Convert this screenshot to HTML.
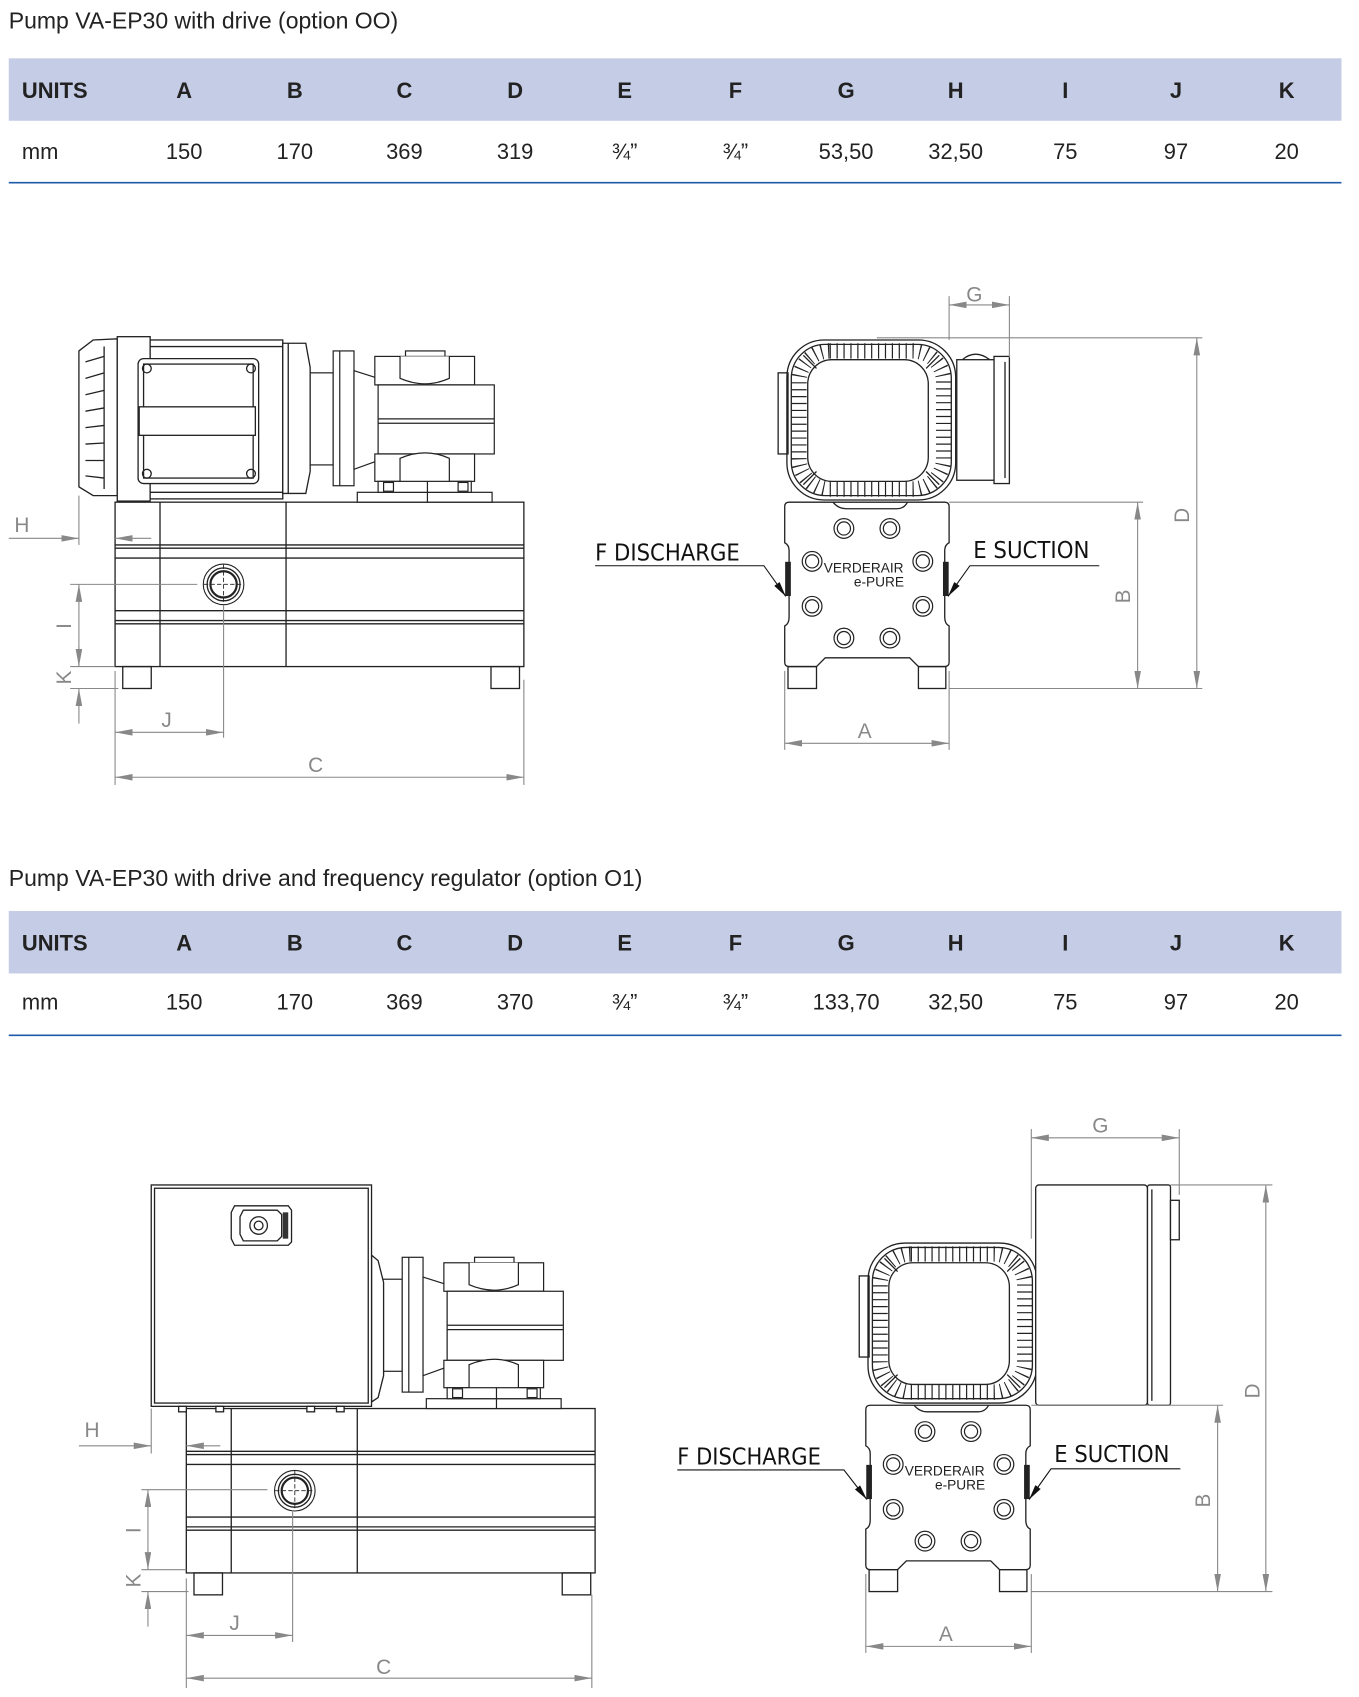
<!DOCTYPE html>
<html><head><meta charset="utf-8"><style>
html,body{margin:0;padding:0;background:#fff;}
svg{display:block;}
</style></head><body>
<svg width="1359" height="1697" viewBox="0 0 1240 1548" xmlns="http://www.w3.org/2000/svg" font-family="'Liberation Sans', sans-serif">
<defs>
<marker id="ar" viewBox="0 0 16 6" refX="16" refY="3" markerWidth="16" markerHeight="6" markerUnits="userSpaceOnUse" orient="auto-start-reverse"><path d="M0,0 L16,3 L0,6 Z" fill="#888"/></marker>
<marker id="ab" viewBox="0 0 14 6" refX="14" refY="3" markerWidth="14" markerHeight="6" markerUnits="userSpaceOnUse" orient="auto"><path d="M0,0 L14,3 L0,6 Z" fill="#111"/></marker>

<g id="base" fill="none" stroke="#222" stroke-width="1.2">
  <rect x="105" y="458" width="373" height="150"/>
  <line x1="146" y1="458" x2="146" y2="608"/>
  <line x1="261" y1="458" x2="261" y2="608"/>
  <line x1="105" y1="497" x2="478" y2="497"/><line x1="105" y1="500" x2="478" y2="500"/>
  <line x1="105" y1="509" x2="478" y2="509"/>
  <line x1="105" y1="557" x2="478" y2="557"/>
  <line x1="105" y1="566" x2="478" y2="566"/><line x1="105" y1="569" x2="478" y2="569"/>
  <rect x="112" y="608" width="26" height="20"/>
  <rect x="448" y="608" width="26" height="20"/>
  <circle cx="204" cy="533" r="18.5" stroke-width="1"/>
  <circle cx="204" cy="533" r="15"/>
  <circle cx="204" cy="533" r="12" stroke-width="2"/>
  <line x1="186" y1="533" x2="222" y2="533" stroke-width="0.8" stroke-dasharray="4 2"/>
  <line x1="204" y1="515" x2="204" y2="551" stroke-width="0.8" stroke-dasharray="4 2"/>
</g>

<g id="gear" fill="#fff" stroke="#222" stroke-width="1.1">
  <rect x="281" y="340" width="23" height="84"/>
  <rect x="304" y="320" width="19" height="123"/>
  <line x1="310" y1="320" x2="310" y2="443"/>
  <path d="M323,338 L345,345 L345,420 L323,428 Z"/>
  <rect x="342" y="325" width="91" height="26"/>
  <rect x="370" y="320" width="36" height="5"/>
  <path d="M365,325 L365,345 Q388,355 410,345 L410,325" />
  <rect x="345" y="351" width="106" height="63"/>
  <line x1="345" y1="382" x2="451" y2="382"/><line x1="345" y1="386" x2="451" y2="386"/>
  <rect x="342" y="414" width="91" height="25"/>
  <path d="M365,439 L365,418 Q388,408 410,418 L410,439" />
  <rect x="326" y="449" width="123" height="9"/>
  <rect x="345" y="439" width="85" height="10"/>
  <rect x="350" y="440" width="9" height="8"/><rect x="418" y="440" width="9" height="8"/>
  <line x1="390" y1="439" x2="390" y2="458"/>
</g>

<g id="front">
  <g fill="none" stroke="#222" stroke-width="1.2">
    <rect x="710" y="340" width="9" height="74"/>
    <rect x="718" y="310" width="154" height="146" rx="34"/>
    <rect x="722" y="314" width="146" height="138" rx="31"/>
    <rect x="729" y="320" width="132" height="126" rx="28" stroke-width="14" stroke="#222" stroke-dasharray="1.1 5.2"/>
    <rect x="737" y="328" width="110" height="111" rx="22"/>
    <path d="M733,324 L745,336 M857,324 L845,336 M733,442 L745,430 M857,442 L845,430"/>
    <path d="M716,462 Q716,458 720,458 L862,458 Q866,458 866,462 L866,495 Q862,497 862,502 L862,563 Q862,569 866,571 L866,604 Q866,608 862,608 L838,608 L830,600 L753,600 L745,608 L720,608 Q716,608 716,604 L716,571 Q720,569 720,563 L720,502 Q720,497 716,495 Z" fill="#fff"/>
    <path d="M760,458 Q765,464 772,464 L818,464 Q825,464 828,458"/>
    <rect x="719" y="608" width="26" height="20"/>
    <rect x="838" y="608" width="25" height="20"/>
    <rect x="717" y="513" width="4" height="30" fill="#222"/>
    <rect x="861" y="513" width="4" height="30" fill="#222"/>
  </g>
  <g fill="none" stroke="#222" stroke-width="1.1">
    <circle cx="770" cy="482" r="9"/><circle cx="770" cy="482" r="6"/>
    <circle cx="812" cy="482" r="9"/><circle cx="812" cy="482" r="6"/>
    <circle cx="741" cy="512" r="9"/><circle cx="741" cy="512" r="6"/>
    <circle cx="842" cy="512" r="9"/><circle cx="842" cy="512" r="6"/>
    <circle cx="741" cy="553" r="9"/><circle cx="741" cy="553" r="6"/>
    <circle cx="842" cy="553" r="9"/><circle cx="842" cy="553" r="6"/>
    <circle cx="770" cy="582" r="9"/><circle cx="770" cy="582" r="6"/>
    <circle cx="812" cy="582" r="9"/><circle cx="812" cy="582" r="6"/>
  </g>
  <text x="788" y="522" font-size="12.5" text-anchor="middle" fill="#222">VERDERAIR</text>
  <text x="802" y="535" font-size="12.5" text-anchor="middle" fill="#222">e-PURE</text>
</g>
</defs>

<!-- Titles & tables -->
<text x="8" y="26" font-size="21" fill="#222">Pump VA-EP30 with drive (option OO)</text>
<rect x="8" y="53" width="1216" height="57" fill="#c5cce6"/>
<g font-size="20" font-weight="bold" fill="#222" text-anchor="middle">
<text x="20" y="89" text-anchor="start">UNITS</text>
<text x="168" y="89">A</text><text x="269" y="89">B</text><text x="369" y="89">C</text><text x="470" y="89">D</text><text x="570" y="89">E</text><text x="671" y="89">F</text><text x="772" y="89">G</text><text x="872" y="89">H</text><text x="972" y="89">I</text><text x="1073" y="89">J</text><text x="1174" y="89">K</text>
</g>
<g font-size="20" fill="#222" text-anchor="middle">
<text x="20" y="145" text-anchor="start">mm</text>
<text x="168" y="145">150</text><text x="269" y="145">170</text><text x="369" y="145">369</text><text x="470" y="145">319</text><text x="570" y="145">¾”</text><text x="671" y="145">¾”</text><text x="772" y="145">53,50</text><text x="872" y="145">32,50</text><text x="972" y="145">75</text><text x="1073" y="145">97</text><text x="1174" y="145">20</text>
</g>
<line x1="8" y1="166.5" x2="1224" y2="166.5" stroke="#1f5aa8" stroke-width="1.5"/>

<text x="8" y="808" font-size="21" fill="#222">Pump VA-EP30 with drive and frequency regulator (option O1)</text>
<rect x="8" y="831" width="1216" height="57" fill="#c5cce6"/>
<g font-size="20" font-weight="bold" fill="#222" text-anchor="middle">
<text x="20" y="867" text-anchor="start">UNITS</text>
<text x="168" y="867">A</text><text x="269" y="867">B</text><text x="369" y="867">C</text><text x="470" y="867">D</text><text x="570" y="867">E</text><text x="671" y="867">F</text><text x="772" y="867">G</text><text x="872" y="867">H</text><text x="972" y="867">I</text><text x="1073" y="867">J</text><text x="1174" y="867">K</text>
</g>
<g font-size="20" fill="#222" text-anchor="middle">
<text x="20" y="921" text-anchor="start">mm</text>
<text x="168" y="921">150</text><text x="269" y="921">170</text><text x="369" y="921">369</text><text x="470" y="921">370</text><text x="570" y="921">¾”</text><text x="671" y="921">¾”</text><text x="772" y="921">133,70</text><text x="872" y="921">32,50</text><text x="972" y="921">75</text><text x="1073" y="921">97</text><text x="1174" y="921">20</text>
</g>
<line x1="8" y1="944.5" x2="1224" y2="944.5" stroke="#1f5aa8" stroke-width="1.5"/>

<!-- ===== Drawing 1 side ===== -->
<use href="#base"/>
<use href="#gear"/>
<g fill="#fff" stroke="#222" stroke-width="1.2">
  <path d="M72,320 L85,310 L107,309 L107,452 L85,452 L72,444 Z"/>
  <path d="M78,330 L95,325 M78,345 L95,340 M78,360 L95,356 M78,375 L95,372 M78,390 L95,388 M78,405 L95,404 M78,420 L95,420 M78,434 L95,436" fill="none"/>
  <line x1="95" y1="316" x2="95" y2="446"/>
  <rect x="107" y="307" width="30" height="150"/>
  <rect x="137" y="310" width="121" height="145"/>
  <line x1="137" y1="316" x2="258" y2="316"/><line x1="137" y1="449" x2="258" y2="449"/>
  <rect x="126" y="327" width="110" height="114" rx="5"/>
  <rect x="131" y="332" width="100" height="104" fill="none"/>
  <rect x="127" y="371" width="106" height="26"/>
  <circle cx="134" cy="336" r="4" fill="none"/><circle cx="229" cy="336" r="4" fill="none"/>
  <circle cx="134" cy="432" r="4" fill="none"/><circle cx="229" cy="432" r="4" fill="none"/>
  <path d="M258,313 L279,313 L283,335 L283,430 L279,450 L258,450 Z"/>
  <line x1="263" y1="313" x2="263" y2="450"/>
</g>
<g stroke="#888" stroke-width="1" fill="none">
  <line x1="72" y1="452" x2="72" y2="497"/>
  <line x1="8" y1="491" x2="72" y2="491" marker-end="url(#ar)"/>
  <line x1="138" y1="491" x2="105" y2="491" marker-end="url(#ar)"/>
  <line x1="64" y1="533" x2="180" y2="533"/>
  <line x1="64" y1="608" x2="105" y2="608"/>
  <line x1="64" y1="628" x2="108" y2="628"/>
  <line x1="72" y1="533" x2="72" y2="608" marker-start="url(#ar)" marker-end="url(#ar)"/>
  <line x1="72" y1="660" x2="72" y2="628" marker-end="url(#ar)"/>
  <line x1="72" y1="590" x2="72" y2="608"/>
  <line x1="105" y1="612" x2="105" y2="716"/>
  <line x1="204" y1="552" x2="204" y2="673"/>
  <line x1="478" y1="620" x2="478" y2="716"/>
  <line x1="105" y1="668" x2="204" y2="668" marker-start="url(#ar)" marker-end="url(#ar)"/>
  <line x1="105" y1="709" x2="478" y2="709" marker-start="url(#ar)" marker-end="url(#ar)"/>
</g>
<g fill="#888" font-size="19" text-anchor="middle">
  <text x="20" y="485">H</text>
  <text x="152" y="663">J</text>
  <text x="288" y="704">C</text>
  <text transform="translate(65,571) rotate(-90)">I</text>
  <text transform="translate(65,618) rotate(-90)">K</text>
</g>

<!-- ===== Drawing 1 front ===== -->
<use href="#front"/>
<g fill="#fff" stroke="#222" stroke-width="1.2">
  <rect x="873" y="328" width="36" height="110"/>
  <rect x="907" y="325" width="14" height="116"/>
  <line x1="917" y1="330" x2="917" y2="436"/>
  <path d="M878,328 Q890,318 903,328" fill="none"/>
</g>
<g stroke="#888" stroke-width="1" fill="none">
  <line x1="866" y1="270" x2="866" y2="310"/>
  <line x1="921" y1="270" x2="921" y2="326"/>
  <line x1="866" y1="278" x2="921" y2="278" marker-start="url(#ar)" marker-end="url(#ar)"/>
  <line x1="800" y1="308" x2="1097" y2="308"/>
  <line x1="866" y1="458" x2="1043" y2="458"/>
  <line x1="866" y1="628" x2="1097" y2="628"/>
  <line x1="1092" y1="308" x2="1092" y2="628" marker-start="url(#ar)" marker-end="url(#ar)"/>
  <line x1="1038" y1="458" x2="1038" y2="628" marker-start="url(#ar)" marker-end="url(#ar)"/>
  <line x1="716" y1="612" x2="716" y2="684"/>
  <line x1="866" y1="612" x2="866" y2="684"/>
  <line x1="716" y1="678" x2="866" y2="678" marker-start="url(#ar)" marker-end="url(#ar)"/>
</g>
<g fill="#888" font-size="19" text-anchor="middle">
  <text x="889" y="275">G</text>
  <text x="789" y="673">A</text>
  <text transform="translate(1085,470) rotate(-90)">D</text>
  <text transform="translate(1031,544) rotate(-90)">B</text>
</g>
<g fill="#111" font-size="21" font-family="'DejaVu Sans Condensed','Liberation Sans Narrow','Liberation Sans',sans-serif">
  <text x="543" y="511" textLength="132" lengthAdjust="spacingAndGlyphs">F DISCHARGE</text>
  <text x="888" y="509" textLength="106" lengthAdjust="spacingAndGlyphs">E SUCTION</text>
</g>
<g stroke="#111" stroke-width="1" fill="none">
  <polyline points="543,516 697,516 717,544" marker-end="url(#ab)"/>
  <polyline points="1003,516 885,516 865,544" marker-end="url(#ab)"/>
</g>

<!-- ===== Drawing 2 side ===== -->
<use href="#base" transform="translate(65,827)"/>
<use href="#gear" transform="translate(63,827)"/>
<g fill="#fff" stroke="#222" stroke-width="1.2">
  <path d="M339,1145 L345,1150 L350,1170 L350,1255 L345,1275 L339,1279 Z"/>
  <rect x="138" y="1081" width="201" height="202"/>
  <rect x="141" y="1084" width="195" height="196" fill="none"/>
  <rect x="163" y="1283" width="7" height="5"/><rect x="197" y="1283" width="7" height="5"/><rect x="280" y="1283" width="7" height="5"/><rect x="307" y="1283" width="7" height="5"/>
  <path d="M214,1100 L263,1100 L266,1104 L266,1133 L263,1136 L214,1136 L211,1130 L211,1106 Z"/>
  <path d="M222,1104 L253,1104 L257,1108 L257,1128 L253,1132 L222,1132 L219,1126 L219,1110 Z" fill="none"/>
  <circle cx="236" cy="1118" r="8" fill="none"/><circle cx="236" cy="1118" r="4" fill="none"/>
  <rect x="258" y="1106" width="5" height="24" fill="#333" stroke="none"/>
</g>
<g stroke="#888" stroke-width="1" fill="none">
  <line x1="138" y1="1285" x2="138" y2="1326"/>
  <line x1="72" y1="1319" x2="138" y2="1319" marker-end="url(#ar)"/>
  <line x1="201" y1="1319" x2="170" y2="1319" marker-end="url(#ar)"/>
  <line x1="129" y1="1359" x2="244" y2="1359"/>
  <line x1="129" y1="1432" x2="170" y2="1432"/>
  <line x1="129" y1="1452" x2="172" y2="1452"/>
  <line x1="135" y1="1359" x2="135" y2="1432" marker-start="url(#ar)" marker-end="url(#ar)"/>
  <line x1="135" y1="1484" x2="135" y2="1452" marker-end="url(#ar)"/>
  <line x1="135" y1="1414" x2="135" y2="1432"/>
  <line x1="170" y1="1440" x2="170" y2="1540"/>
  <line x1="267" y1="1378" x2="267" y2="1498"/>
  <line x1="540" y1="1455" x2="540" y2="1540"/>
  <line x1="170" y1="1492" x2="267" y2="1492" marker-start="url(#ar)" marker-end="url(#ar)"/>
  <line x1="170" y1="1531" x2="540" y2="1531" marker-start="url(#ar)" marker-end="url(#ar)"/>
</g>
<g fill="#888" font-size="19" text-anchor="middle">
  <text x="84" y="1311">H</text>
  <text x="214" y="1487">J</text>
  <text x="350" y="1527">C</text>
  <text transform="translate(128,1396) rotate(-90)">I</text>
  <text transform="translate(128,1442) rotate(-90)">K</text>
</g>

<!-- ===== Drawing 2 front ===== -->
<use href="#front" transform="translate(74,824)"/>
<g fill="#fff" stroke="#222" stroke-width="1.2">
  <rect x="945" y="1081" width="102" height="201" rx="3"/>
  <rect x="1047" y="1081" width="21" height="201" rx="2"/>
  <line x1="1051" y1="1085" x2="1051" y2="1278"/>
  <rect x="1068" y="1095" width="8" height="36"/>
</g>
<g stroke="#888" stroke-width="1" fill="none">
  <line x1="941" y1="1030" x2="941" y2="1130"/>
  <line x1="1076" y1="1030" x2="1076" y2="1090"/>
  <line x1="941" y1="1038" x2="1076" y2="1038" marker-start="url(#ar)" marker-end="url(#ar)"/>
  <line x1="1068" y1="1081" x2="1161" y2="1081"/>
  <line x1="941" y1="1282" x2="1116" y2="1282"/>
  <line x1="941" y1="1452" x2="1161" y2="1452"/>
  <line x1="1155" y1="1081" x2="1155" y2="1452" marker-start="url(#ar)" marker-end="url(#ar)"/>
  <line x1="1111" y1="1282" x2="1111" y2="1452" marker-start="url(#ar)" marker-end="url(#ar)"/>
  <line x1="790" y1="1436" x2="790" y2="1508"/>
  <line x1="941" y1="1436" x2="941" y2="1508"/>
  <line x1="790" y1="1502" x2="941" y2="1502" marker-start="url(#ar)" marker-end="url(#ar)"/>
</g>
<g fill="#888" font-size="19" text-anchor="middle">
  <text x="1004" y="1033">G</text>
  <text x="863" y="1497">A</text>
  <text transform="translate(1149,1269) rotate(-90)">D</text>
  <text transform="translate(1104,1369) rotate(-90)">B</text>
</g>
<g fill="#111" font-size="21" font-family="'DejaVu Sans Condensed','Liberation Sans Narrow','Liberation Sans',sans-serif">
  <text x="618" y="1336" textLength="131" lengthAdjust="spacingAndGlyphs">F DISCHARGE</text>
  <text x="962" y="1334" textLength="105" lengthAdjust="spacingAndGlyphs">E SUCTION</text>
</g>
<g stroke="#111" stroke-width="1" fill="none">
  <polyline points="618,1341 770,1341 791,1368" marker-end="url(#ab)"/>
  <polyline points="1077,1340 959,1340 939,1368" marker-end="url(#ab)"/>
</g>
</svg>
</body></html>
